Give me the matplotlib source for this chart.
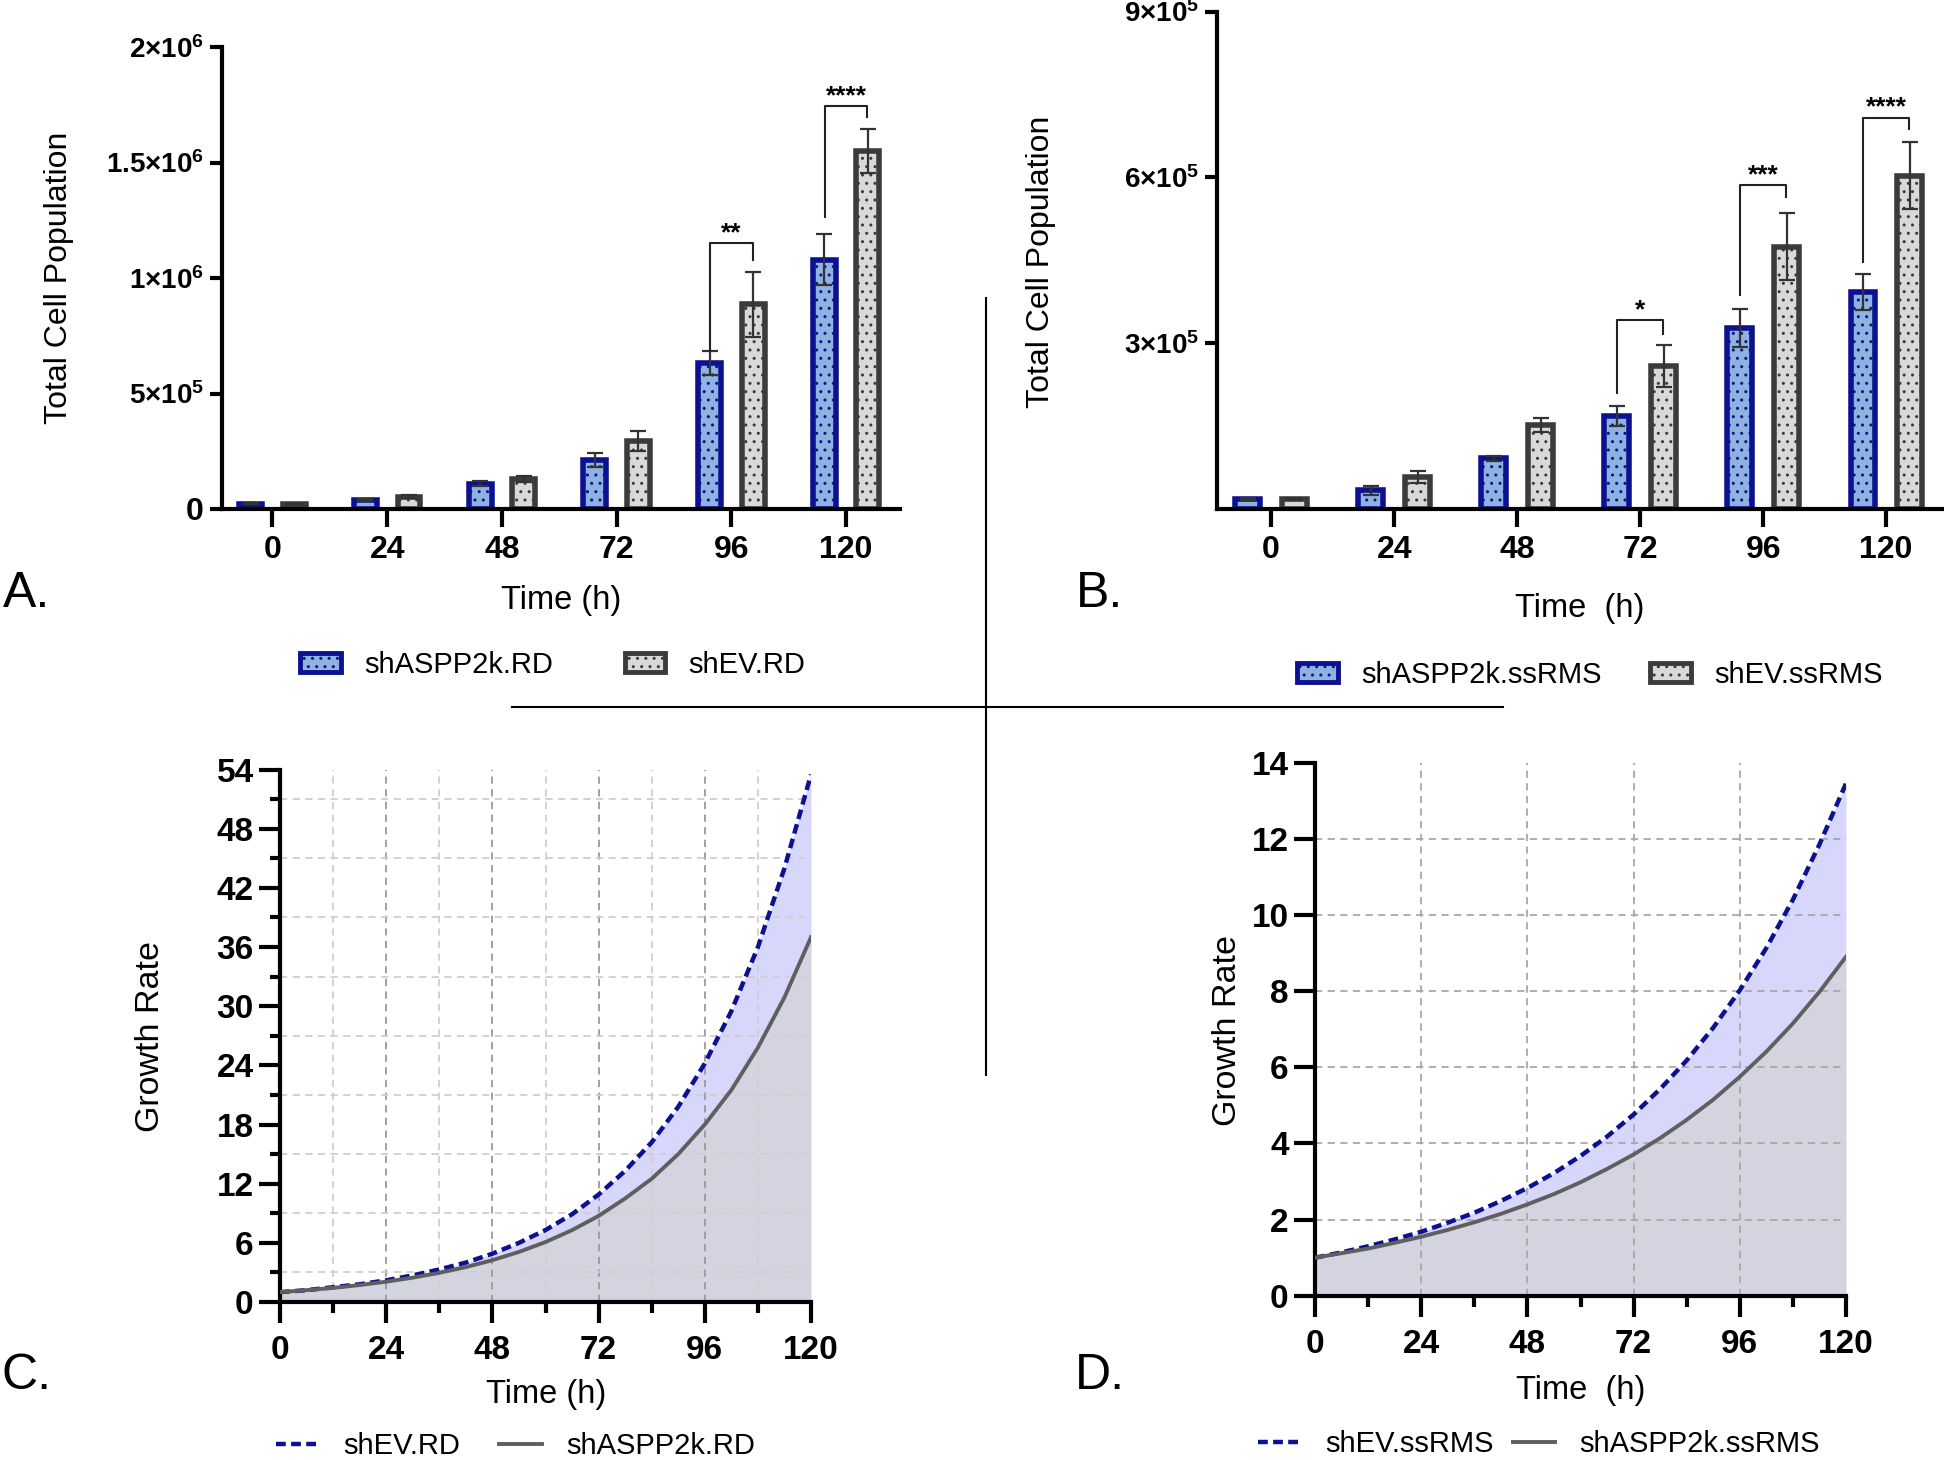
import numpy as np
import matplotlib
matplotlib.use("Agg")
import matplotlib.pyplot as plt
from matplotlib import font_manager
from matplotlib.lines import Line2D
from matplotlib.patches import Rectangle
from matplotlib.ticker import MultipleLocator

# ---- data ----
hours = [0, 24, 48, 72, 96, 120]
hour_labels = ["0", "24", "48", "72", "96", "120"]

# A. RD total cell population (mean, SD)
rd_kd = [23000, 39000, 110000, 212000, 632000, 1080000]
rd_kd_err = [1500, 6000, 10000, 29000, 52000, 110000]
rd_ev = [22000, 54000, 130000, 294000, 887000, 1550000]
rd_ev_err = [1500, 6000, 13000, 42000, 141000, 96000]
# (time index, bracket top, left leg end, right leg end, label)
rd_sig = [(4, 1150000, 682000, 1076000, "**"),
          (5, 1743000, 1262000, 1697000, "****")]

# B. ssRMS total cell population
rms_kd = [17500, 33000, 91000, 167000, 327000, 392000]
rms_kd_err = [1000, 8500, 5000, 18000, 34500, 33000]
rms_ev = [17500, 58000, 151000, 258500, 474600, 602700]
rms_ev_err = [1000, 11000, 13000, 37500, 59900, 60300]
rms_sig = [(3, 341000, 210000, 316000, "*"),
           (4, 586000, 386500, 563600, "***"),
           (5, 708000, 447000, 688000, "****")]

# C./D. growth rate curves, read every 6 h
t_curve = [0, 6, 12, 18, 24, 30, 36, 42, 48, 54, 60,
           66, 72, 78, 84, 90, 96, 102, 108, 114, 120]
rd_ev_rate = [1.0, 1.2, 1.5, 1.8, 2.2, 2.7, 3.3, 4.0, 4.9, 6.0, 7.3,
              8.9, 10.9, 13.3, 16.2, 19.8, 24.2, 29.5, 36.0, 44.0, 53.5]
rd_kd_rate = [1.0, 1.2, 1.43, 1.72, 2.06, 2.47, 2.96, 3.54, 4.24, 5.08, 6.08,
              7.29, 8.73, 10.5, 12.5, 15.0, 18.0, 21.5, 25.8, 30.9, 37.0]
rms_ev_rate = [1.0, 1.14, 1.30, 1.48, 1.68, 1.92, 2.18, 2.49, 2.83, 3.22, 3.67,
               4.18, 4.76, 5.43, 6.18, 7.04, 8.02, 9.13, 10.4, 11.85, 13.45]
rms_kd_rate = [1.0, 1.12, 1.24, 1.39, 1.55, 1.73, 1.93, 2.15, 2.40, 2.67, 2.98,
               3.33, 3.71, 4.14, 4.62, 5.15, 5.75, 6.41, 7.15, 7.98, 8.90]

# ---- style ----
NAVY = "#0c1190"
KD_FILL = "#8fb3e0"
EV_FILL = "#d9d9d9"
EV_EDGE = "#3b3b3b"
ERR = "#333333"
CURVE_GREY = "#5f5f5f"
FILL_UNDER = "#d4d4e1"
FILL_BETWEEN = "#d7d7fb"

installed = {f.name for f in font_manager.fontManager.ttflist}
NARROW = "Liberation Sans Narrow" if "Liberation Sans Narrow" in installed else "Liberation Sans"
narrow_fam = [NARROW, "DejaVu Sans"]

plt.rcParams["font.family"] = ["Liberation Sans", "DejaVu Sans"]
plt.rcParams["mathtext.fontset"] = "custom"
plt.rcParams["mathtext.rm"] = NARROW
plt.rcParams["mathtext.bf"] = NARROW + ":bold"
plt.rcParams["hatch.linewidth"] = 1.0

W, H = 1944, 1460
fig = plt.figure(figsize=(W / 100, H / 100), dpi=100)


def px_axes(l, t, r, b):
    return fig.add_axes([l / W, 1 - b / H, (r - l) / W, (b - t) / H])


def place_labels(ax, box, xlab, xpos, ylab, ypos, ysize):
    l, t, r, b = box
    ax.set_xlabel(xlab, fontsize=23.5, family=narrow_fam)
    ax.xaxis.set_label_coords((xpos[0] - l) / (r - l), (b - xpos[1]) / (b - t))
    ax.xaxis.label.set_va("center")
    ax.set_ylabel(ylab, fontsize=ysize)
    ax.yaxis.set_label_coords((ypos[0] - l) / (r - l), (b - ypos[1]) / (b - t))
    ax.yaxis.label.set_va("center")


def base_spines(ax):
    for s in ("top", "right"):
        ax.spines[s].set_visible(False)
    for s in ("left", "bottom"):
        ax.spines[s].set_linewidth(3)


def bold_ticks(labels, size):
    for lbl in labels:
        lbl.set_family(narrow_fam)
        lbl.set_fontweight("bold")
        lbl.set_fontsize(size)


def bar_panel(ax, kd, kd_err, ev, ev_err, sig, ymax, yticks, ylabels):
    x = np.arange(len(hours))
    off = 0.19
    ax.bar(x - off, kd, width=0.2, color=KD_FILL, edgecolor=NAVY,
           linewidth=4, hatch="..", zorder=2)
    ax.bar(x + off, ev, width=0.2, color=EV_FILL, edgecolor=EV_EDGE,
           linewidth=4, hatch="..", zorder=2)
    for xs, ys, es in ((x - off, kd, kd_err), (x + off, ev, ev_err)):
        ax.errorbar(xs, ys, yerr=es, fmt="none", ecolor=ERR, elinewidth=1.6,
                    capsize=5.5, capthick=1.6, zorder=3)
    for i, top, lo_l, lo_r, stars in sig:
        xl, xr = i - 0.185, i + 0.185
        ax.plot([xl, xl, xr, xr], [lo_l, top, top, lo_r], color="#222222",
                lw=1.5, zorder=4, clip_on=False)
        ax.annotate(stars, (i, top), xytext=(0, 2), textcoords="offset points",
                    ha="center", va="baseline", fontsize=19, fontweight="bold")
    ax.set_xlim(-0.44, 5.47)
    ax.set_ylim(0, ymax)
    ax.set_xticks(x)
    ax.set_xticklabels(hour_labels)
    ax.set_yticks(yticks)
    ax.set_yticklabels(ylabels, fontsize=20)
    bold_ticks(ax.get_xticklabels(), 23)
    ax.tick_params(axis="x", length=13, width=3, pad=6)
    ax.tick_params(axis="y", length=9, width=3, pad=4)
    base_spines(ax)


def curve_panel(ax, ev_rate, kd_rate, ymax, ystep, ev_label, kd_label):
    ax.fill_between(t_curve, 0, kd_rate, color=FILL_UNDER, lw=0, zorder=1)
    ax.fill_between(t_curve, kd_rate, ev_rate, color=FILL_BETWEEN, lw=0, zorder=1)
    ax.plot(t_curve, ev_rate, color=NAVY, lw=3.2, ls=(0, (2.2, 1.2)),
            label=ev_label, zorder=3)
    ax.plot(t_curve, kd_rate, color=CURVE_GREY, lw=2.8, label=kd_label, zorder=3)
    ax.set_xlim(0, 120)
    ax.set_ylim(0, ymax)
    ax.set_xticks(hours)
    ax.set_xticklabels(hour_labels)
    ax.xaxis.set_minor_locator(MultipleLocator(12))
    yt = np.arange(0, ymax + 0.1, ystep)
    ax.set_yticks(yt)
    ax.set_yticklabels([f"{v:g}" for v in yt])
    bold_ticks(ax.get_xticklabels() + ax.get_yticklabels(), 24)
    ax.tick_params(axis="x", which="major", length=15, width=3, pad=9)
    ax.tick_params(axis="x", which="minor", length=8, width=3)
    ax.tick_params(axis="y", which="major", length=15, width=3, pad=4)
    ax.tick_params(axis="y", which="minor", length=7, width=3)
    base_spines(ax)


# ---------- A ----------
boxA = (222, 47, 900, 509)
axA = px_axes(*boxA)
bar_panel(axA, rd_kd, rd_kd_err, rd_ev, rd_ev_err, rd_sig, 2e6,
          [0, 5e5, 1e6, 1.5e6, 2e6],
          [r"$\mathbf{0}$", r"$\mathbf{5{\times}10^{5}}$", r"$\mathbf{1{\times}10^{6}}$",
           r"$\mathbf{1.5{\times}10^{6}}$", r"$\mathbf{2{\times}10^{6}}$"])
axA.get_yticklabels()[0].set_fontsize(23)
place_labels(axA, boxA, "Time (h)", (561, 600), "Total Cell Population", (59, 278), 23)

# ---------- B ----------
boxB = (1217, 11.5, 1944, 508.7)
axB = px_axes(*boxB)
bar_panel(axB, rms_kd, rms_kd_err, rms_ev, rms_ev_err, rms_sig, 9e5,
          [3e5, 6e5, 9e5],
          [r"$\mathbf{3{\times}10^{5}}$", r"$\mathbf{6{\times}10^{5}}$",
           r"$\mathbf{9{\times}10^{5}}$"])
place_labels(axB, boxB, "Time  (h)", (1580, 609), "Total Cell Population", (1041, 262), 23)

# ---------- C ----------
boxC = (280, 769.6, 811, 1302)
axC = px_axes(*boxC)
curve_panel(axC, rd_ev_rate, rd_kd_rate, 54, 6, "shEV.RD", "shASPP2k.RD")
axC.yaxis.set_minor_locator(MultipleLocator(3))
for t in range(12, 120, 12):
    axC.axvline(t, color="#9a9a9a" if t % 24 == 0 else "#cfcfcf",
                lw=1.3, ls=(0, (4, 3)), zorder=1.5)
for v in range(3, 54, 6):
    axC.axhline(v, color="#cfcfcf", lw=1.3, ls=(0, (4, 3)), zorder=1.5)
place_labels(axC, boxC, "Time (h)", (546, 1394), "Growth Rate", (150, 1036), 24.5)

# ---------- D ----------
boxD = (1315, 762.5, 1846, 1295.8)
axD = px_axes(*boxD)
curve_panel(axD, rms_ev_rate, rms_kd_rate, 14, 2, "shEV.ssRMS", "shASPP2k.ssRMS")
for t in range(24, 120, 24):
    axD.axvline(t, color="#a8a8a8", lw=1.3, ls=(0, (4, 3)), zorder=1.5)
for v in range(2, 14, 2):
    axD.axhline(v, color="#a8a8a8", lw=1.3, ls=(0, (4, 3)), zorder=1.5)
place_labels(axD, boxD, "Time  (h)", (1581, 1391), "Growth Rate", (1227, 1030), 24.5)

# ---------- legends ----------
def bar_handles():
    return [Rectangle((0, 0), 1, 1, facecolor=KD_FILL, edgecolor=NAVY, lw=3.5, hatch=".."),
            Rectangle((0, 0), 1, 1, facecolor=EV_FILL, edgecolor=EV_EDGE, lw=3.5, hatch="..")]


def add_legend(handles, labels, x, y, colsp, hl=1.4, hh=0.62, pad=0.8):
    fig.legend(handles, labels, loc="center left", bbox_to_anchor=(x / W, 1 - y / H),
               ncol=2, frameon=False, fontsize=21, handlelength=hl, handleheight=hh,
               handletextpad=pad, columnspacing=colsp, borderpad=0, borderaxespad=0)


add_legend(bar_handles(), ["shASPP2k.RD", "shEV.RD"], 300, 665, 2.45)
add_legend(bar_handles(), ["shASPP2k.ssRMS", "shEV.ssRMS"], 1297, 675, 1.65)
hC, lC = axC.get_legend_handles_labels()
add_legend(hC, lC, 276, 1446, 1.35, hl=1.45, pad=0.85)
hD, lD = axD.get_legend_handles_labels()
add_legend(hD, lD, 1258, 1444, 0.65, hl=1.45, pad=0.85)

# ---------- panel letters and dividers ----------
for letter, (x, y) in {"A.": (27, 594), "B.": (1100, 594),
                       "C.": (27, 1376), "D.": (1100, 1376)}.items():
    fig.text(x / W, 1 - y / H, letter, fontsize=36, ha="center", va="center")

fig.add_artist(Line2D([986 / W, 986 / W], [1 - 298 / H, 1 - 1075 / H],
                      transform=fig.transFigure, color="black", lw=1.5))
fig.add_artist(Line2D([512 / W, 1503 / W], [1 - 707 / H, 1 - 707 / H],
                      transform=fig.transFigure, color="black", lw=1.5))

fig.savefig("out.png", dpi=100)
